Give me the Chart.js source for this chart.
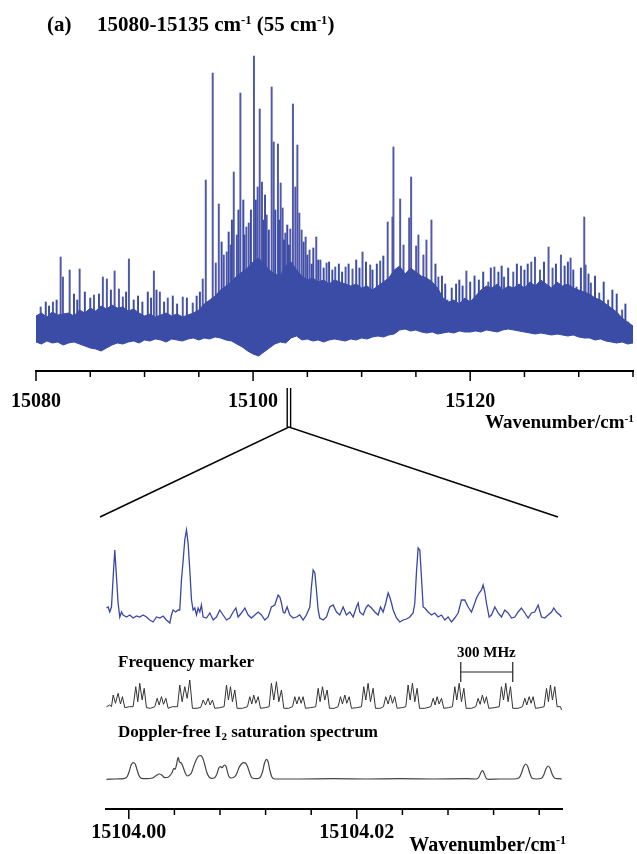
<!DOCTYPE html>
<html>
<head>
<meta charset="utf-8">
<script src="https://cdn.jsdelivr.net/npm/chart.js@4.4.1/dist/chart.umd.min.js"></script>
<style>
  html, body { margin: 0; padding: 0; background: #fff; }
  body { width: 637px; height: 854px; position: relative; overflow: hidden;
         font-family: 'Liberation Serif', 'Times New Roman', serif; font-weight: bold; color: #000; }
  .t { position: absolute; line-height: 1; white-space: nowrap; }
  .t sup { font-size: 0.6em; position: relative; top: -0.55em; vertical-align: baseline; }
  .t sub { font-size: 0.65em; position: relative; top: 0.3em; vertical-align: baseline; }
  canvas { position: absolute; left: 0; }
</style>
</head>
<body>
<canvas id="top" width="637" height="440" style="top:0"></canvas>
<canvas id="bot" width="637" height="434" style="top:420px"></canvas>

<div class="t" style="left:47px; top:14px; font-size:21px">(a)</div>
<div class="t" style="left:97px; top:14px; font-size:21px">15080-15135 cm<sup>-1</sup> (55 cm<sup>-1</sup>)</div>
<div class="t" style="right:3px; top:412px; font-size:19px">Wavenumber/cm<sup>-1</sup></div>
<div class="t" style="left:118px; top:653px; font-size:17px">Frequency marker</div>
<div class="t" style="left:457px; top:645px; font-size:15px">300 MHz</div>
<div class="t" style="left:118px; top:723px; font-size:17px">Doppler-free I<sub>2</sub> saturation spectrum</div>
<div class="t" style="right:71px; top:834px; font-size:20px">Wavenumber/cm<sup>-1</sup></div>

<script>
// ---- overview spectrum, 15080-15135 cm-1 ----
const TOP_TICKS = [15080, 15085, 15090, 15095, 15100, 15105, 15110, 15115, 15120, 15125, 15130, 15135];
const TOP_LABELS = [15080, 15100, 15120];
const ZOOM_AT = 15103.3; // where the expanded region sits

// dense band, sampled every 0.5 cm-1 from 15080
const BAND_START = 15080;
const BAND_STEP = 0.5;
const BAND_HI = [44,47,43,48,45,46,47,44, 50,47,52,49, 54,51,55,52,53,49,51,
  47,44,46,43,45,47,44,46,43,45,47,50, 56,60,64, 70,74,78, 84,88,92, 98,102,96,
  90,86,84, 94,98,90, 84,80,82,78,80,76, 80,78,76,74,76,72,74,70,74,78,82,
  90,94,86,92,88,84,82,78,72, 62,58,60,56,62,58,64, 70,74,72,76,70,74,72,
  76,72,78,74,80,76,72,78,74,76, 72,70,68,66,62,60, 56,52,48,42,38,34];
const BAND_LO = [18,16,19,17,18,15,17,18,16,14, 12,11,9,12, 15,17,16,18,19,17,
  20,19,21,20,18,21,20,19,21,22,20, 22,21,23,22,20,19,16, 13,9,6,4,8,12,
  16,18,17,22,24, 20,21,19,20,18,20,21,20,19,21,20,22,21, 23,24,23,25,26,
  30,31,29,30,28, 27,28,26,27, 28,27,29,28,28,29,28,30,29,28, 30,31,30,29,28,
  27,26,27,26,25,26,25,24,25,23,22, 22,20,21,19,18,17,18,16,17];

// strong lines standing out of the band
const SPIKE_BASE = 32;
const SPIKE_WN = [15080.43,15081.56,15082.27,15082.48,15083.10,15084.02,15085.34,15086.16,15086.53,15087.24,
  15087.64,15088.00,15088.56,15090.86,15091.41,15092.14,15093.52,15094.44,15095.36,15095.64,
  15096.28,15096.56,15096.84,15097.30,15097.57,15097.94,15098.22,15098.50,15098.83,15099.38,
  15099.60,15100.08,15100.42,15100.61,15100.82,15101.25,15101.71,15101.90,15102.29,15102.54,
  15102.72,15102.97,15103.43,15103.67,15103.89,15104.08,15104.26,15104.47,15104.84,15105.20,
  15105.82,15106.20,15106.77,15107.57,15108.52,15109.16,15110.08,15110.79,15111.71,15112.40,
  15112.84,15112.93,15113.55,15113.86,15114.38,15114.56,15115.02,15115.23,15115.69,15115.97,
  15116.43,15117.07,15117.90,15119.65,15121.67,15122.23,15123.12,15123.97,15124.68,15125.63,
  15125.97,15126.43,15127.22,15127.59,15128.36,15129.25,15129.80,15130.51,15130.63,15131.12,
  15131.89,15132.71,15134.00,15134.55];
const SPIKE_H = [53,58,103,83,90,91,65,83,81,89,
  71,63,101,89,68,62,63,57,81,180,
  287,97,156,105,108,115,188,125,267,133,
  137,304,173,251,178,145,273,218,216,177,
  152,127,131,256,173,215,147,130,123,110,
  123,100,97,93,93,91,108,95,99,138,
  143,213,161,115,142,183,114,125,105,120,
  140,83,60,89,78,93,83,88,94,98,
  103,90,113,92,105,102,73,143,95,77,
  67,60,50,38];

// weaker lines that make the ragged top of the band
const MINOR_WN = [15080.9,15081.2,15081.9,15083.5,15083.8,15084.5,15085.0,15085.8,15086.9,15088.3,
  15089.0,15089.4,15089.8,15090.3,15090.6,15091.1,15091.8,15092.6,15093.0,15093.9,
  15094.8,15095.1,15097.10,15097.75,15098.05,15098.65,15099.10,15099.20,15099.80,15100.25,
  15100.95,15101.10,15101.45,15102.05,15102.40,15102.85,15103.15,15103.30,15104.65,15105.00,
  15105.4,15105.55,15106.0,15106.5,15107.0,15107.3,15107.9,15108.2,15108.8,15109.5,
  15109.8,15110.4,15111.0,15111.4,15112.0,15116.8,15117.4,15117.7,15118.3,15118.7,
  15119.0,15119.3,15120.0,15120.4,15120.8,15121.2,15121.9,15122.6,15122.9,15123.5,
  15124.3,15125.0,15125.3,15126.8,15127.9,15128.7,15129.0,15129.5,15130.2,15130.9,
  15131.5,15132.3,15133.1,15133.5,15134.3];
const MINOR_H = [58,54,60,66,60,68,62,66,70,68,
  60,64,58,68,62,70,58,64,56,62,
  64,68,118,128,140,150,160,125,150,160,
  140,165,130,150,140,120,135,115,118,105,
  96,112,100,92,98,90,96,88,96,100,
  92,98,90,96,104,96,84,76,72,76,
  80,74,78,84,80,88,92,88,94,92,
  96,90,96,98,96,94,98,90,92,86,
  84,78,70,66,56];

// ---- expanded region; x in units of 1e-4 cm-1 from 15104 ----
const ORIGIN = 15104;
const UNIT = 1e-4;
const BOT_TICKS = [0, 40, 80, 120, 160, 200, 240, 280, 320, 360];
const BOT_LABELS = [0, 200];

const BLUE_U = [-19.6,-18.1,-16.7,-15.2,-13.7,-12.3,-10.8,-9.4,-7.9,-6.4,-5.0,-2.0,0.9,3.8,6.7,9.6,12.6,15.5,18.4,21.3,
  24.3,27.2,30.1,33.0,36.0,37.4,38.9,41.2,43.3,44.7,46.2,47.7,49.1,50.6,52.0,53.5,55.0,56.4,57.9,59.4,
  60.8,62.3,63.7,65.2,68.1,71.1,74.0,76.9,79.8,82.7,85.7,88.6,91.5,93.9,95.9,98.8,101.8,104.7,107.6,110.5,
  113.5,116.4,119.3,122.2,125.1,128.1,129.5,131.0,132.5,133.9,135.4,136.8,138.9,141.2,144.2,147.1,150.0,152.9,155.8,158.8,
  160.2,161.7,163.2,164.6,166.1,167.5,170.5,173.4,176.3,179.2,182.2,185.1,188.0,190.9,193.9,196.8,199.7,201.2,202.6,205.6,
  207.9,209.9,212.9,215.8,218.7,220.8,223.1,225.4,227.5,228.9,230.4,231.9,234.8,237.7,240.6,243.6,246.5,249.4,250.9,252.3,
  253.8,255.3,256.7,258.2,259.6,262.6,265.5,268.4,271.3,274.3,277.2,280.1,283.0,285.9,288.9,291.8,294.7,297.7,300.6,303.5,
  305.0,307.3,309.4,310.8,312.3,313.7,316.1,318.1,321.1,324.0,326.9,329.8,332.7,335.7,338.6,341.5,344.4,347.4,350.3,353.2,
  356.1,359.1,362.0,364.9,367.8,370.8,372.8,375.1,378.1,379.5];
const BLUE_V = [12,13,8,13,43,70,43,17,3,8,5,3,5,2,4,3,5,3,0,-2,
  3,2,4,0,-3,5,10,8,10,10,40,60,80,90,77,50,20,10,12,5,
  12,8,15,3,2,7,0,3,10,5,0,2,8,12,3,7,12,5,2,5,
  8,5,0,3,13,15,20,25,23,17,8,7,13,5,2,3,5,0,5,13,
  33,50,47,30,10,2,0,3,13,15,8,5,13,5,8,3,13,17,8,5,
  12,15,12,8,5,13,8,17,27,23,17,10,2,-2,0,1,3,7,17,47,
  72,70,43,13,12,8,5,7,3,5,0,3,-2,2,7,20,20,13,8,17,
  22,27,30,35,28,17,3,5,13,7,3,10,7,2,3,8,12,7,2,7,
  8,15,3,2,5,8,12,8,5,3];

const MARK_U = [-19.6,-16.7,
  -15.2,-13.7,-11.7,-9.4,-7.3,-5.6,-3.5, 0.3,
  3.8,6.1,7.9,9.6,11.7,13.5,15.5, 19.0,
  22.8,24.9,26.6,28.7,30.4,32.5,34.5, 38.3,
  42.7,44.7,46.8,49.1,51.2,53.5,55.8, 59.9,
  63.2,65.2,67.3,69.6,71.3,73.4,75.4, 79.8,
  83.6,85.7,87.4,89.2,90.9,93.0,95.0, 99.7,
  104.1,106.1,107.9,109.6,111.4,113.5,115.5, 119.6,
  123.1,125.1,127.2,129.5,131.6,133.9,136.0, 140.1,
  143.6,145.6,147.4,149.4,151.2,152.9,155.0, 159.4,
  164.0,166.1,167.8,169.9,171.9,174.0,176.0, 180.1,
  183.6,185.7,187.4,189.5,191.2,193.3,195.3, 199.7,
  204.1,206.1,207.9,209.9,212.0,214.3,216.4, 220.5,
  223.4,225.4,227.5,229.5,231.3,233.3,235.4, 239.5,
  243.0,245.0,246.8,248.8,250.9,252.9,255.0, 259.6,
  264.9,267.0,268.7,270.5,272.2,274.3,276.3, 280.4,
  283.9,286.0,287.7,289.8,291.8,293.9,295.9, 300.6,
  304.4,306.4,308.2,310.2,312.0,313.7,315.8, 320.5,
  324.9,326.9,328.7,330.7,332.7,334.8,336.8, 341.5,
  345.3,347.4,349.1,351.2,352.9,354.7,356.7, 360.5,
  364.3,366.4,368.1,369.9,371.6,373.7,375.7,378.7,379.6];
const MARK_V = [1.3,3.0,
  1.3,13.0,4.7,14.7,4.0,11.3,0.3, 1.3,
  1.3,21.3,6.3,24.7,8.0,19.7,0.3, -0.3,
  1.3,9.7,3.0,11.3,3.7,9.7,-0.3, 1.3,
  1.3,23.0,6.3,21.3,9.7,28.0,-0.3, -0.3,
  0.7,8.0,3.0,9.7,3.0,8.0,-0.3, 0.3,
  1.3,23.0,8.0,21.3,6.3,18.0,-0.3, -0.3,
  1.3,11.3,4.0,13.0,4.7,11.3,-0.3, 0.3,
  1.3,24.7,8.0,26.3,6.3,18.0,-0.3, -0.3,
  1.3,11.3,4.0,11.3,4.7,11.3,-0.3, 0.3,
  1.3,19.7,6.3,21.3,8.0,18.0,-0.3, -0.3,
  1.3,11.3,4.0,13.0,4.7,11.3,-0.3, 0.3,
  1.3,21.3,8.0,24.7,6.3,19.7,-0.3, -0.3,
  1.3,11.3,4.0,13.0,4.7,11.3,-0.3, 0.3,
  1.3,23.0,8.0,24.7,6.3,19.7,-0.3, -0.3,
  1.3,9.7,3.0,11.3,4.0,9.7,-0.3, 0.3,
  1.3,21.3,8.0,24.7,6.3,19.7,-0.3, -0.3,
  1.3,9.7,3.7,13.0,4.7,11.3,-0.3, 0.3,
  1.3,21.3,8.0,24.7,6.3,21.3,-0.3, -0.3,
  1.3,9.7,3.0,11.3,4.7,11.3,-0.3, 0.3,
  1.3,19.7,6.3,23.0,8.0,21.3,1.3,1.3,-2.0];
const BRACKET_U = [291.2, 336.8];
const BRACKET_V = [26, 36, 46];

const I2_U = [-19.6,-10.8,-3.5,-1.5,0.3,2.0,3.8,5.6,7.3,9.1,11.1,15.5,21.3,24.3,26.6,28.9,31.6,34.5,36.5,38.3,
  39.5,40.6,41.8,43.3,44.4,46.2,47.7,49.4,51.2,52.9,55.0,57.0,59.4,61.4,63.2,64.9,66.7,68.4,70.2,72.5,
  75.4,77.5,78.9,80.4,81.9,83.0,84.2,85.4,86.5,88.0,90.1,93.0,95.0,96.8,98.8,100.9,102.6,104.4,106.1,107.9,
  112.0,114.9,117.3,119.0,120.8,122.2,123.7,125.4,128.1,150.0,179.2,208.5,237.7,267.0,296.2,305.0,307.3,308.8,310.2,311.7,
  313.2,315.5,325.4,337.1,342.4,344.4,346.2,348.2,350.0,351.8,353.8,357.6,362.0,364.0,365.8,367.8,369.6,371.3,373.4,376.6,
  379.8];
const I2_V = [-1.3,-1.0,-0.3,1.3,6.3,13.0,15.3,14.0,8.0,2.0,-0.3,-0.7,0.3,2.7,4.0,3.0,0.3,0.7,3.0,6.3,
  9.7,8.7,13.0,20.7,16.3,14.7,10.7,5.3,2.0,2.7,5.3,12.0,18.7,22.0,22.3,19.7,13.0,5.7,1.3,-0.3,
  0.3,4.7,9.7,11.3,10.3,12.0,13.0,11.3,6.3,1.3,0.0,1.3,5.3,10.7,14.0,15.3,14.7,10.7,4.7,0.3,
  -0.7,0.3,6.3,14.7,18.7,16.3,8.0,1.3,-1.0,-1.0,-0.7,-1.0,-0.7,-1.0,-0.7,-1.0,1.3,5.3,7.3,4.7,
  0.3,-1.3,-1.0,-1.0,0.3,4.7,10.7,14.0,11.3,4.7,-0.3,-1.0,-0.3,3.0,8.7,12.0,9.7,4.0,0.0,-0.7,
  -1.0];

// ---- styling ----
const BAND_COLOR = '#3a4ca6';
const SPIKE_COLOR = '#5058ab';
const BLUE_LINE = '#3b47a6';
const TICK_FONT = { family: "'Liberation Serif', serif", size: 20, weight: 'bold' };
const BOT_CANVAS_TOP = 420;

const pts = (xs, ys) => xs.map((x, i) => ({ x, y: ys[i] }));
const lines = (xs, hs) => xs.map((x, i) => ({ x, y: [SPIKE_BASE, hs[i]] }));

// major/minor tick marks under the axis line
const tickMarks = {
  id: 'tickMarks',
  afterDraw(chart) {
    const s = chart.scales.x, ctx = chart.ctx;
    ctx.save();
    ctx.strokeStyle = '#000';
    ctx.lineWidth = 1.5;
    s.ticks.forEach(t => {
      const px = s.getPixelForValue(t.value);
      ctx.beginPath();
      ctx.moveTo(px, s.top);
      ctx.lineTo(px, s.top + (t.label ? 10 : 6));
      ctx.stroke();
    });
    ctx.restore();
  }
};

// double line below the overview axis, marking the expanded region
const zoomMark = {
  id: 'zoomMark',
  afterDraw(chart) {
    const s = chart.scales.x, ctx = chart.ctx;
    const xc = s.getPixelForValue(ZOOM_AT);
    ctx.save();
    ctx.strokeStyle = '#000';
    ctx.lineWidth = 1.4;
    [-1.7, 1.7].forEach(d => {
      ctx.beginPath();
      ctx.moveTo(xc + d, s.top + 17);
      ctx.lineTo(xc + d, s.top + 56);
      ctx.stroke();
    });
    ctx.restore();
  }
};

// keep the axis box from widening the padding for its tick labels
const noSidePad = h => s => { s.height = h; s.paddingLeft = 0; s.paddingRight = 0; };

const topChart = new Chart(document.getElementById('top'), {
  type: 'line',
  data: {
    datasets: [
      {
        data: BAND_HI.map((v, i) => ({ x: BAND_START + i * BAND_STEP, y: v })),
        borderColor: BAND_COLOR, backgroundColor: BAND_COLOR, borderWidth: 1,
        fill: '+1', pointRadius: 0, tension: 0,
      },
      {
        data: BAND_LO.map((v, i) => ({ x: BAND_START + i * BAND_STEP, y: v })),
        borderColor: BAND_COLOR, borderWidth: 1, fill: false, pointRadius: 0, tension: 0,
      },
      { type: 'bar', data: lines(MINOR_WN, MINOR_H), backgroundColor: BAND_COLOR, barThickness: 1.3, grouped: false },
      { type: 'bar', data: lines(SPIKE_WN, SPIKE_H), backgroundColor: SPIKE_COLOR, barThickness: 1.3, grouped: false },
    ],
  },
  options: {
    responsive: false,
    animation: false,
    events: [],
    layout: { padding: { left: 36, right: 4, top: 40, bottom: 0 } },
    plugins: { legend: { display: false }, tooltip: { enabled: false } },
    scales: {
      x: {
        type: 'linear', min: 15080, max: 15135, offset: false,
        afterBuildTicks: s => { s.ticks = TOP_TICKS.map(v => ({ value: v })); },
        afterFit: noSidePad(69),
        grid: { display: false },
        border: { display: true, color: '#000', width: 2 },
        ticks: {
          padding: 11, color: '#000', font: TICK_FONT, maxRotation: 0, autoSkip: false,
          callback: v => (TOP_LABELS.includes(v) ? String(v) : ''),
        },
      },
      y: { display: false, min: -11, max: 320 },
    },
  },
  plugins: [tickMarks, zoomMark],
});

// fan lines from the double line out to the expanded panel
const fanLines = {
  id: 'fanLines',
  afterDraw(chart) {
    const ctx = chart.ctx, a = chart.chartArea;
    const ts = topChart.scales.x;
    const xc = ts.getPixelForValue(ZOOM_AT);
    const yc = ts.top + 56 - BOT_CANVAS_TOP;
    ctx.save();
    ctx.strokeStyle = '#000';
    ctx.lineWidth = 1.6;
    ctx.beginPath();
    ctx.moveTo(a.left - 6, a.top - 3);
    ctx.lineTo(xc, yc);
    ctx.lineTo(a.right - 4, a.top - 3);
    ctx.stroke();
    ctx.restore();
  }
};

// 300 MHz scale bracket above the marker trace
const bracket = {
  id: 'bracket',
  afterDraw(chart) {
    const ctx = chart.ctx, s = chart.scales.x, y = chart.scales.yMark;
    const x1 = s.getPixelForValue(BRACKET_U[0]), x2 = s.getPixelForValue(BRACKET_U[1]);
    const yLo = y.getPixelForValue(BRACKET_V[0]), yMid = y.getPixelForValue(BRACKET_V[1]), yHi = y.getPixelForValue(BRACKET_V[2]);
    ctx.save();
    ctx.strokeStyle = '#222';
    ctx.lineWidth = 1.2;
    ctx.beginPath();
    ctx.moveTo(x1, yLo); ctx.lineTo(x1, yHi);
    ctx.moveTo(x2, yLo); ctx.lineTo(x2, yHi);
    ctx.moveTo(x1, yMid); ctx.lineTo(x2, yMid);
    ctx.stroke();
    ctx.restore();
  }
};

new Chart(document.getElementById('bot'), {
  type: 'line',
  data: {
    datasets: [
      { data: pts(BLUE_U, BLUE_V), yAxisID: 'yBlue', borderColor: BLUE_LINE, borderWidth: 1.3, pointRadius: 0, tension: 0 },
      { data: pts(MARK_U, MARK_V), yAxisID: 'yMark', borderColor: '#333', borderWidth: 1, pointRadius: 0, tension: 0 },
      { data: pts(I2_U, I2_V), yAxisID: 'yI2', borderColor: '#444', borderWidth: 1.2, pointRadius: 0, cubicInterpolationMode: 'monotone' },
    ],
  },
  options: {
    responsive: false,
    animation: false,
    events: [],
    layout: { padding: { left: 106, right: 75, top: 100, bottom: 0 } },
    plugins: { legend: { display: false }, tooltip: { enabled: false } },
    scales: {
      x: {
        type: 'linear', min: -20, max: 380, offset: false,
        afterBuildTicks: s => { s.ticks = BOT_TICKS.map(v => ({ value: v })); },
        afterFit: noSidePad(45),
        grid: { display: false },
        border: { display: true, color: '#000', width: 2 },
        ticks: {
          padding: 4, color: '#000', font: TICK_FONT, maxRotation: 0, autoSkip: false,
          callback: v => (BOT_LABELS.includes(v) ? (ORIGIN + v * UNIT).toFixed(2) : ''),
        },
      },
      yBlue: { display: false, min: -189, max: 100 },
      yMark: { display: false, min: -101, max: 188 },
      yI2: { display: false, min: -31, max: 258 },
    },
  },
  plugins: [tickMarks, fanLines, bracket],
});
</script>
</body>
</html>
